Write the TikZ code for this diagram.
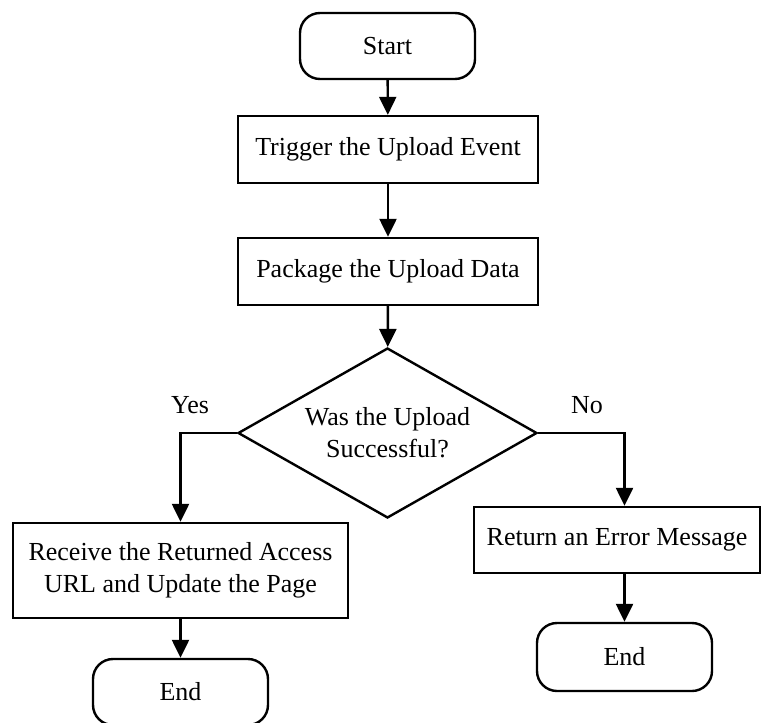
\documentclass[tikz,border=0pt]{standalone}
\usepackage{fontspec}
\setmainfont{Liberation Serif}
\usetikzlibrary{shapes.geometric,arrows.meta}
\begin{document}
\begin{tikzpicture}[x=1pt,y=-1pt,
  every node/.style={font=\fontsize{26}{32}\selectfont},
  terminal/.style={draw, line width=2.4pt, rounded corners=20pt, minimum width=175pt, minimum height=66pt, inner sep=0pt},
  process/.style={draw, line width=2.4pt, minimum width=300pt, minimum height=67pt, inner sep=0pt, align=center},
  decision/.style={draw, diamond, line width=2.4pt, aspect=1.76, minimum width=299pt, minimum height=170pt, inner sep=0pt, align=center},
  flow/.style={line width=2.4pt, -{Triangle[width=17pt,length=18pt]}},
  tag/.style={inner sep=0pt}]
\useasboundingbox (0,0) rectangle (762,722);

% main column
\node[terminal] (start) at (387.5,46) {Start};
\node[process] (trig) at (388,149.5) {Trigger the Upload Event};
\node[process] (pack) at (388,271.5) {Package the Upload Data};
\node[decision] (dia) at (387.5,433) {Was the Upload\\Successful?};

% success branch
\node[process, minimum width=335pt, minimum height=95pt] (recv) at (180.5,570.5) {Receive the Returned Access\\URL and Update the Page};
\node[terminal] (endl) at (180.5,692) {End};

% failure branch
\node[process, minimum width=286pt, minimum height=66pt] (ret) at (617,540) {Return an Error Message};
\node[terminal, minimum height=68pt] (endr) at (624.5,657) {End};

% branch labels
\node[tag] (yes) at (190,405) {Yes};
\node[tag] (no) at (587,405) {No};

% connectors
\draw[flow] (start) -- (trig);
\draw[flow] (trig) -- (pack);
\draw[flow] (pack) -- (dia);
\draw[flow] (dia.west) -| (recv.north);
\draw[flow] (dia.east) -| (endr.north |- ret.north);
\draw[flow] (recv) -- (endl);
\draw[flow] (ret.south -| endr.north) -- (endr.north);
\end{tikzpicture}
\end{document}
